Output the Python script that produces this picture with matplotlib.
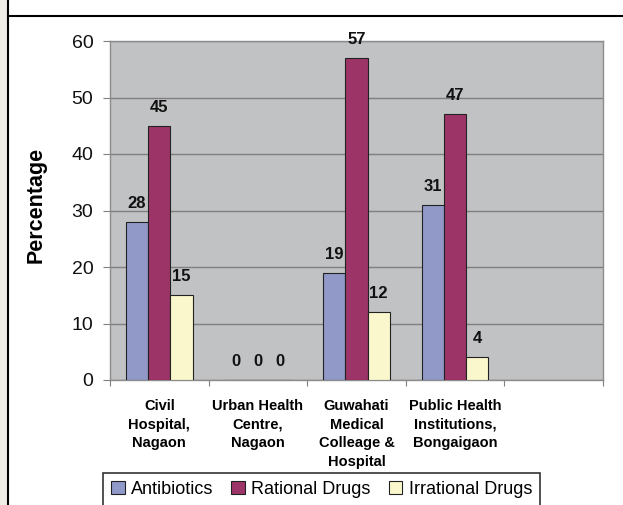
import matplotlib
matplotlib.use("Agg")
import matplotlib.pyplot as plt
from matplotlib.patches import Patch
from matplotlib.lines import Line2D
import numpy as np

plt.rcParams['font.family'] = ['Liberation Sans', 'DejaVu Sans']

categories = ["Civil\nHospital,\nNagaon", "Urban Health\nCentre,\nNagaon",
              "Guwahati\nMedical\nColleage &\nHospital",
              "Public Health\nInstitutions,\nBongaigaon", ""]
series_names = ["Antibiotics", "Rational Drugs", "Irrational Drugs"]
antibiotics = [28, 0, 19, 31]
rational = [45, 0, 57, 47]
irrational = [15, 0, 12, 4]
colors = ["#9199c9", "#9c3467", "#f9f7cb"]

W, H = 623, 505
fig = plt.figure(figsize=(W / 100, H / 100), dpi=100)
fig.patch.set_facecolor("white")

# left strip and border lines
fig.patches.append(plt.Rectangle((0, 0), 8 / W, 1, transform=fig.transFigure,
                                 facecolor="#f0ece8", edgecolor="none", zorder=0))
fig.lines.append(Line2D([8 / W, 8 / W], [0, 1], transform=fig.transFigure,
                        color="black", lw=1.5))
fig.lines.append(Line2D([8 / W, 1], [1 - 16 / H, 1 - 16 / H], transform=fig.transFigure,
                        color="black", lw=1.5))

ax = fig.add_axes([110 / W, 1 - 380 / H, (603 - 110) / W, (380 - 41) / H])
ax.set_facecolor("#c1c2c4")

x = np.arange(len(categories))
bw = 0.225
data = [antibiotics, rational, irrational]
for i, (vals, c, name) in enumerate(zip(data, colors, series_names)):
    xs = np.arange(len(vals)) + (i - 1) * bw
    ax.bar(xs, vals, width=bw, color=c, edgecolor="#222222", linewidth=0.8,
           zorder=3, label=name)
    for xx, v in zip(xs, vals):
        ax.annotate(str(v), (xx, v), xytext=(0, 8), textcoords="offset points",
                    ha="center", va="bottom", fontsize=12, fontweight="bold",
                    color="#111111", zorder=4)

ax.set_xlim(-0.5, len(categories) - 0.5)
ax.set_ylim(0, 60)
ax.set_yticks(range(0, 61, 10))
ax.yaxis.grid(True, color="#7f7f7f", linewidth=1, zorder=1)
ax.set_axisbelow(True)
ax.tick_params(axis="y", length=5, width=0.8, color="#808080", pad=7,
               labelsize=14, labelcolor="#111111")

ax.set_xticks(np.arange(len(categories) + 1) - 0.5)
ax.set_xticklabels([])
ax.tick_params(axis="x", which="major", length=4, width=0.8, color="#808080")
ax.set_xticks(x, categories, minor=True)
ax.tick_params(axis="x", which="minor", length=0, pad=14, labelsize=10.5)
for lab in ax.get_xticklabels(minor=True):
    lab.set_fontweight("bold")
    lab.set_va("top")
    lab.set_linespacing(1.4)

for s in ax.spines.values():
    s.set_color("#8c8c8c")
    s.set_linewidth(1)

fig.text(36 / W, 1 - 205 / H, "Percentage", rotation=90, ha="center", va="center",
         fontsize=15.5, fontweight="bold")

handles = [Patch(facecolor=c, edgecolor="#222222", linewidth=0.8) for c in colors]
leg = fig.legend(handles, series_names, loc="upper left",
                 bbox_to_anchor=(103 / W, 1 - 473 / H), ncol=3, fontsize=13,
                 frameon=True, fancybox=False, edgecolor="black",
                 handlelength=0.75, handleheight=0.75, handletextpad=0.35,
                 columnspacing=1.0, borderpad=0.45, borderaxespad=0)
leg.get_frame().set_linewidth(1.2)

fig.savefig("out.png", dpi=100)
